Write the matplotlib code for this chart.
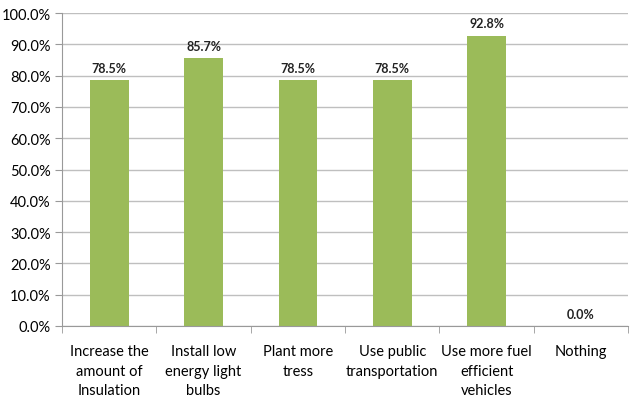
import matplotlib.pyplot as plt
import numpy as np

categories = ["Increase the\namount of\nInsulation", "Install low\nenergy light\nbulbs",
              "Plant more\ntress", "Use public\ntransportation",
              "Use more fuel\nefficient\nvehicles", "Nothing"]
values = [78.5, 85.7, 78.5, 78.5, 92.8, 0.0]
yticks = np.arange(0, 101, 10)

plt.rcParams['font.family'] = ['Lato', 'DejaVu Sans']

fig = plt.figure(figsize=(6.41, 4.02), dpi=100)
ax = fig.add_axes([0.0967, 0.1866, 0.8833, 0.7784])

x = np.arange(len(categories))
ax.bar(x, values, width=0.41, color='#9BBB59', zorder=2)
for xi, v in zip(x, values):
    ax.text(xi, v + 2.0, f"{v:.1f}%", ha='center', va='bottom', fontsize=9,
            fontweight='bold', color='#222222')

ax.set_xlim(-0.5, len(categories) - 0.5)
ax.set_ylim(0, 100)
ax.set_yticks(yticks)
ax.set_yticklabels([f"{t:.1f}%" for t in yticks], fontsize=10.5)
ax.yaxis.grid(True, color='#BFBFBF', linewidth=1, zorder=0)
ax.set_axisbelow(True)

ax.set_xticks(x)
ax.set_xticklabels(categories, fontsize=10.5, linespacing=1.5)
ax.tick_params(axis='x', length=0, pad=13)
ax.set_xticks(np.arange(-0.5, len(categories), 1), minor=True)
ax.tick_params(axis='x', which='minor', length=5, color='#999999')
ax.tick_params(axis='y', length=5, color='#999999', pad=3)

for side in ['top', 'right']:
    ax.spines[side].set_visible(False)
ax.spines['left'].set_color('#999999')
ax.spines['bottom'].set_color('#999999')

fig.savefig('out.png', dpi=100)
